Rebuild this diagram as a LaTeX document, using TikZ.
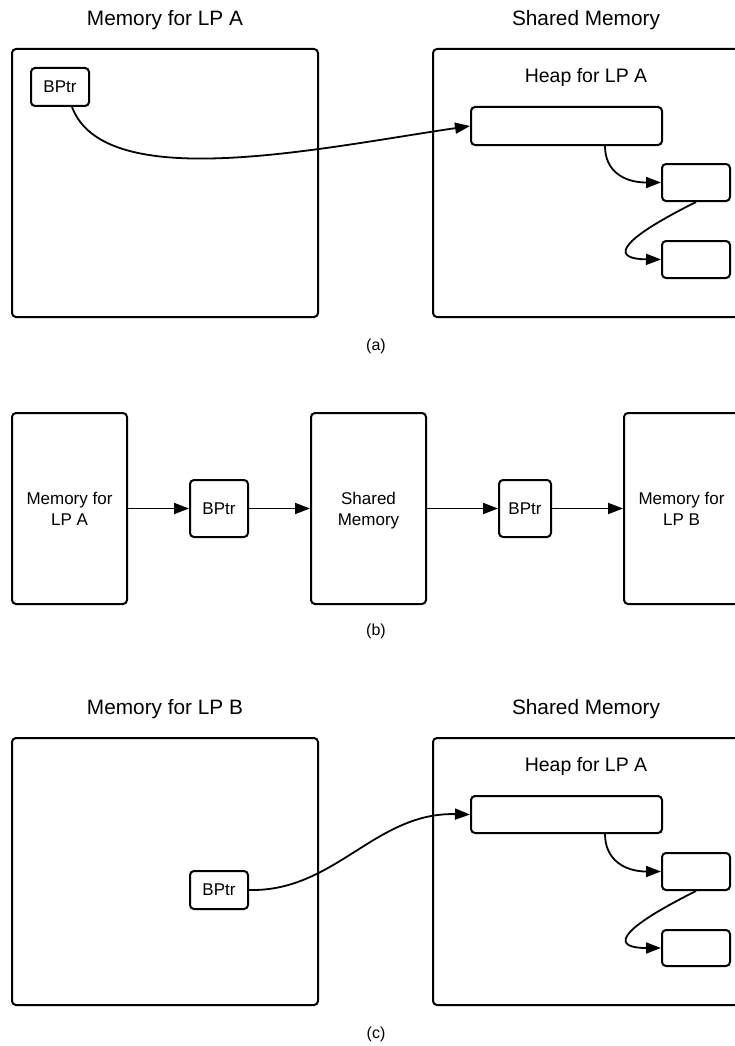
\documentclass[tikz,border=0pt]{standalone}
\usepackage{fontspec}
\setmainfont{Liberation Sans}
\usetikzlibrary{arrows.meta}
\begin{document}
\begin{tikzpicture}[x=1pt,y=-1pt,
  box/.style={draw, line width=2pt, rounded corners=4pt, inner sep=0pt, align=center},
  conn/.style={line width=1.8pt, -{Triangle[length=15pt,width=11pt]}},
  ttl/.style={font=\fontsize{20.8}{24}\selectfont},
  heap/.style={font=\fontsize{19.5}{23}\selectfont},
  lbl/.style={font=\fontsize{17}{21}\selectfont},
  captxt/.style={font=\fontsize{16}{19}\selectfont}]
\useasboundingbox (0,0) rectangle (735,1046);
\clip (0,0) rectangle (735,1046);
% ---------- (a) ----------
\node[ttl] (ta1) at (165,20) {Memory for LP A};
\node[ttl] (ta2) at (586,20) {Shared Memory};
\node[box, minimum width=306pt, minimum height=268pt] (ma) at (165,183) {};
\node[box, minimum width=306pt, minimum height=268pt] (sa) at (586,183) {};
\node[box, lbl, minimum width=58pt, minimum height=38pt] (ba) at (60,87) {BPtr};
\node[heap] (hta) at (586,77) {Heap for LP A};
\node[box, minimum width=191pt, minimum height=38pt] (h1a) at (566.5,126) {};
\node[box, minimum width=68pt, minimum height=37pt] (h2a) at (696,182.5) {};
\node[box, minimum width=68pt, minimum height=37pt] (h3a) at (696,259.5) {};
\draw[conn] ([xshift=12pt]ba.south) .. controls (105,195) and (320,148) .. (h1a.west);
\draw[conn] ([xshift=38.5pt]h1a.south) .. controls (605,172) and (625,182.5) .. (h2a.west);
\draw[conn] (h2a.south) .. controls (610,245) and (615,259) .. (h3a.west);
\node[captxt] (ca) at (376,346) {(a)};
% ---------- (b) ----------
\node[box, lbl, minimum width=115pt, minimum height=191pt] (mb) at (69.5,508.5) {Memory for\\LP A};
\node[box, lbl, minimum width=58pt, minimum height=57pt] (b1) at (219,508.5) {BPtr};
\node[box, lbl, minimum width=115pt, minimum height=191pt] (sb) at (368.5,508.5) {Shared\\\raisebox{0pt}[\height][0pt]{Memory}};
\node[box, lbl, minimum width=52pt, minimum height=57pt] (b2) at (525,508.5) {BPtr};
\node[box, lbl, minimum width=115pt, minimum height=191pt] (lb) at (681.5,508.5) {Memory for\\LP B};
\draw[conn] (mb) -- (b1);
\draw[conn] (b1) -- (sb);
\draw[conn] (sb) -- (b2);
\draw[conn] (b2) -- (lb);
\node[captxt] (cb) at (376,631) {(b)};
% ---------- (c) ----------
\node[ttl] (tc1) at (165,709) {Memory for LP B};
\node[ttl] (tc2) at (586,709) {Shared Memory};
\node[box, minimum width=306pt, minimum height=267pt] (mc) at (165,871.5) {};
\node[box, minimum width=306pt, minimum height=267pt] (sc) at (586,871.5) {};
\node[box, lbl, minimum width=58pt, minimum height=38pt] (bc) at (219,890) {BPtr};
\node[heap] (htc) at (586,766) {Heap for LP A};
\node[box, minimum width=191pt, minimum height=37pt] (h1c) at (566.5,814.5) {};
\node[box, minimum width=68pt, minimum height=37pt] (h2c) at (696,871.5) {};
\node[box, minimum width=68pt, minimum height=36pt] (h3c) at (696,948) {};
\draw[conn] (bc.east) .. controls (335,892) and (375,812) .. (h1c.west);
\draw[conn] ([xshift=38.5pt]h1c.south) .. controls (605,860) and (625,871.5) .. (h2c.west);
\draw[conn] (h2c.south) .. controls (610,934) and (615,948) .. (h3c.west);
\node[captxt] (cc) at (376,1034) {(c)};
\end{tikzpicture}
\end{document}
